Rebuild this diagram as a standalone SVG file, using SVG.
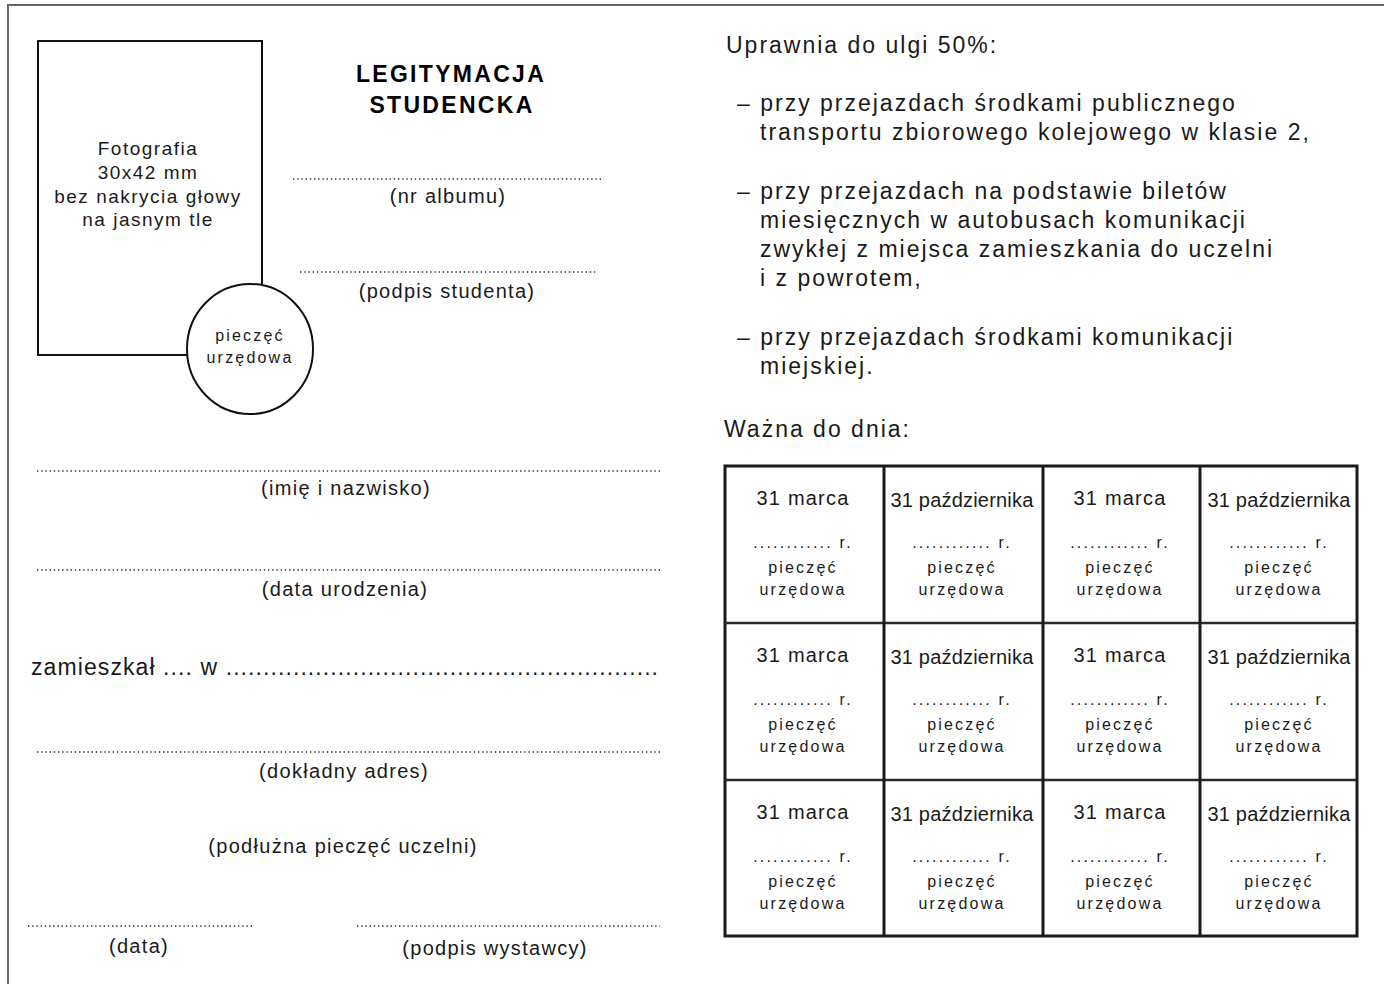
<svg xmlns="http://www.w3.org/2000/svg" width="1384" height="984" viewBox="0 0 1384 984">
<style>
  text { font-family: "Liberation Sans", Arial, sans-serif; fill: #1a1a1a; }
  .body { font-size: 23px; letter-spacing: 2px; }
  .lbl { font-size: 20px; letter-spacing: 1.3px; text-anchor: middle; }
  .photo { font-size: 19px; letter-spacing: 1.5px; text-anchor: middle; }
  .title { font-size: 23px; font-weight: bold; letter-spacing: 2.3px; text-anchor: middle; fill: #000; }
  .stamp { font-size: 16px; letter-spacing: 2.2px; text-anchor: middle; }
  .mar { font-size: 20px; letter-spacing: 1.2px; text-anchor: middle; }
  .paz { font-size: 20px; letter-spacing: 0.2px; text-anchor: middle; }
  .dots { fill: none; stroke: #333; stroke-width: 1.4; stroke-dasharray: 1.4 2.8; }
  .tbl { fill: none; stroke: #1a1a1a; stroke-width: 3; }
  .tblh { fill: none; stroke: #2a2a2a; stroke-width: 2.5; }
</style>
<defs>
  <g id="cellM">
    <text class="mar" x="0" y="40">31 marca</text>
    <text class="stamp" x="0" y="83">............ r.</text>
    <text class="stamp" x="0" y="108">pieczęć</text>
    <text class="stamp" x="0" y="130">urzędowa</text>
  </g>
  <g id="cellP">
    <text class="paz" x="0" y="42">31 października</text>
    <text class="stamp" x="0" y="83">............ r.</text>
    <text class="stamp" x="0" y="108">pieczęć</text>
    <text class="stamp" x="0" y="130">urzędowa</text>
  </g>
</defs>
<rect x="0" y="0" width="1384" height="984" fill="#fff"/>
<g id="frame">
  <path d="M8 984 V5 H1384" fill="none" stroke="#666" stroke-width="2"/>
</g>
<g id="photo">
  <rect x="38" y="41" width="224" height="314" fill="#fff" stroke="#111" stroke-width="2"/>
  <text class="photo" x="148" y="155">Fotografia</text>
  <text class="photo" x="148" y="179">30x42 mm</text>
  <text class="photo" x="148" y="203">bez nakrycia głowy</text>
  <text class="photo" x="148" y="226">na jasnym tle</text>
</g>
<g id="stamp-circle">
  <ellipse cx="250" cy="349" rx="63" ry="65" fill="#fff" stroke="#111" stroke-width="2"/>
  <text class="stamp" x="250" y="341">pieczęć</text>
  <text class="stamp" x="250" y="363">urzędowa</text>
</g>
<g id="title">
  <text class="title" x="451" y="82">LEGITYMACJA</text>
  <text class="title" x="452" y="113">STUDENCKA</text>
</g>
<g id="connectors">
  <line class="dots" x1="293" y1="179" x2="604" y2="179"/>
  <line class="dots" x1="300" y1="272" x2="598" y2="272"/>
  <line class="dots" x1="37" y1="471" x2="660" y2="471"/>
  <line class="dots" x1="37" y1="570" x2="660" y2="570"/>
  <line class="dots" x1="37" y1="752" x2="660" y2="752"/>
  <line class="dots" x1="28" y1="926" x2="253" y2="926"/>
  <line class="dots" x1="357" y1="926" x2="660" y2="926"/>
</g>
<g id="fields">
  <text class="lbl" x="448" y="203">(nr albumu)</text>
  <text class="lbl" x="447" y="298">(podpis studenta)</text>
  <text class="lbl" x="346" y="495">(imię i nazwisko)</text>
  <text class="lbl" x="345" y="596">(data urodzenia)</text>
  <text class="body" x="31" y="675" textLength="629">zamieszkał .... w ..........................................................</text>
  <text class="lbl" x="344" y="778">(dokładny adres)</text>
  <text class="lbl" x="343" y="853">(podłużna pieczęć uczelni)</text>
  <text class="lbl" x="139" y="953">(data)</text>
  <text class="lbl" x="495" y="955">(podpis wystawcy)</text>
</g>
<g id="rights">
  <text class="body" x="726" y="53">Uprawnia do ulgi 50%:</text>
  <text class="body" x="737" y="111">– przy przejazdach środkami publicznego</text>
  <text class="body" x="760" y="140">transportu zbiorowego kolejowego w klasie 2,</text>
  <text class="body" x="737" y="199">– przy przejazdach na podstawie biletów</text>
  <text class="body" x="760" y="228">miesięcznych w autobusach komunikacji</text>
  <text class="body" x="760" y="257">zwykłej z miejsca zamieszkania do uczelni</text>
  <text class="body" x="760" y="286">i z powrotem,</text>
  <text class="body" x="737" y="345">– przy przejazdach środkami komunikacji</text>
  <text class="body" x="760" y="374">miejskiej.</text>
  <text class="body" x="724" y="437">Ważna do dnia:</text>
</g>
<g id="validity-table">
  <rect class="tbl" x="725" y="466" width="632" height="470"/>
  <line class="tblh" x1="725" y1="623" x2="1357" y2="623"/>
  <line class="tblh" x1="725" y1="780" x2="1357" y2="780"/>
  <line class="tbl" x1="884" y1="466" x2="884" y2="936"/>
  <line class="tbl" x1="1043" y1="466" x2="1043" y2="936"/>
  <line class="tbl" x1="1200" y1="466" x2="1200" y2="936"/>
  <use href="#cellM" x="803" y="465"/>
  <use href="#cellP" x="962" y="465"/>
  <use href="#cellM" x="1120" y="465"/>
  <use href="#cellP" x="1279" y="465"/>
  <use href="#cellM" x="803" y="622"/>
  <use href="#cellP" x="962" y="622"/>
  <use href="#cellM" x="1120" y="622"/>
  <use href="#cellP" x="1279" y="622"/>
  <use href="#cellM" x="803" y="779"/>
  <use href="#cellP" x="962" y="779"/>
  <use href="#cellM" x="1120" y="779"/>
  <use href="#cellP" x="1279" y="779"/>
</g>
</svg>
